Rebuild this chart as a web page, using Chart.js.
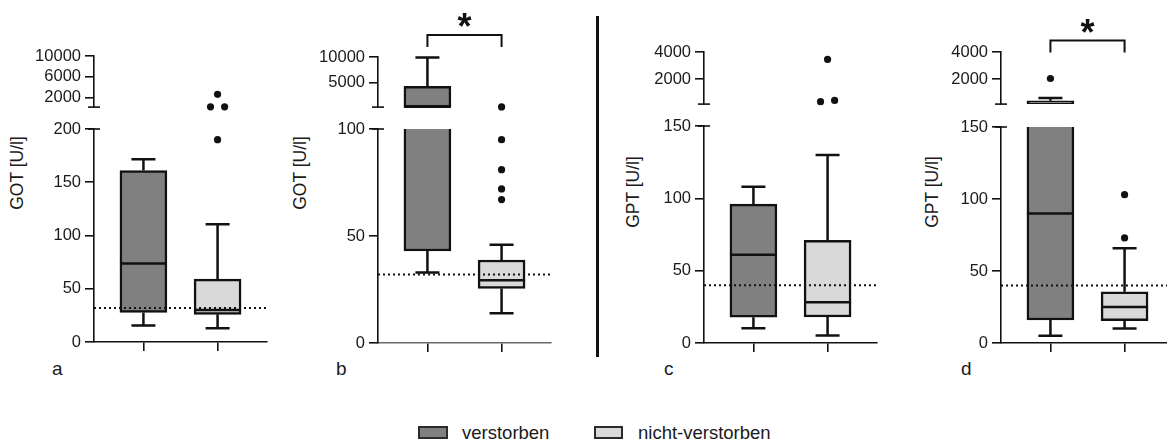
<!DOCTYPE html>
<html>
<head>
<meta charset="utf-8">
<script src="https://cdn.jsdelivr.net/npm/chart.js@4.4.1/dist/chart.umd.min.js"></script>
<style>
  html, body { margin: 0; padding: 0; background: #fff; }
  body { position: relative; width: 1167px; height: 441px; overflow: hidden;
         font-family: "Liberation Sans", Arial, sans-serif; color: #1a1a1a; }
  .holder { position: absolute; }
  .ytitle { position: absolute; font-size: 17.5px; line-height: 17.5px; white-space: nowrap;
            transform: translate(-50%, -50%) rotate(-90deg); }
  .letter { position: absolute; font-size: 19px; line-height: 19px; }
  .sep { position: absolute; left: 596px; top: 16px; width: 2.5px; height: 341px; background: #111; }
  .lgbox { position: absolute; top: 426px; height: 9px; border: 2px solid #2b2b2b; }
  .lgtext { position: absolute; top: 424px; font-size: 18.5px; line-height: 18.5px; white-space: nowrap; }
</style>
</head>
<body>
<div class="sep"></div>

<div class="ytitle" style="left:17.5px;top:172.5px">GOT [U/l]</div>
<div class="ytitle" style="left:301px;top:172.5px">GOT [U/l]</div>
<div class="ytitle" style="left:633.5px;top:191.5px">GPT [U/l]</div>
<div class="ytitle" style="left:933px;top:191.5px">GPT [U/l]</div>

<div class="letter" style="left:52px;top:359px">a</div>
<div class="letter" style="left:336px;top:359px">b</div>
<div class="letter" style="left:664px;top:359px">c</div>
<div class="letter" style="left:961px;top:359px">d</div>

<div class="lgbox" style="left:418px;width:26px;background:#808080"></div>
<div class="lgtext" style="left:462px">verstorben</div>
<div class="lgbox" style="left:594px;width:25px;background:#d9d9d9"></div>
<div class="lgtext" style="left:638px">nicht-verstorben</div>

<script>
// groups on the x axis
const groups = ['verstorben', 'nicht-verstorben'];
const groupX = [1, 2];

// box statistics per group: [min, q1, median, q3, max]
const gotA_stats = [[15.6, 27.8, 73.8, 161, 171.5], [12.8, 26, 30, 59, 110.6]];
const gotA_outY = [190, 250, 250, 2650];
const gotA_outX = [2, 1.905, 2.095, 2];

const gotB_stats = [[33, 43, 150, 4200, 9900], [13.9, 25.5, 29.3, 38.8, 45.9]];
const gotB_outY = [67, 72, 81, 95, 140];
const gotB_outX = [2, 2, 2, 2, 2];

const gptC_stats = [[10.2, 17.8, 61, 96, 108], [5.1, 18, 28.2, 71, 130]];
const gptC_outY = [330, 420, 3450];
const gptC_outX = [1.905, 2.095, 2];

const gptD_stats = [[5, 16, 90, 390, 600], [10, 15.5, 25, 35.6, 65.8]];
const gptD_outY = [2040, 73, 103];
const gptD_outX = [1, 2, 2];

// upper reference limits (dotted lines)
const gotRef = 32;
const gptRef = 40;

// broken y axes: tick labels of the lower and upper segment
const ticksA_low = [0, 50, 100, 150, 200], ticksA_up = [2000, 6000, 10000];
const ticksB_low = [0, 50, 100], ticksB_up = [5000, 10000];
const ticksC_low = [0, 50, 100, 150], ticksC_up = [2000, 4000];
const ticksD_low = [0, 50, 100, 150], ticksD_up = [2000, 4000];

const DARK = '#808080', LIGHT = '#d9d9d9', INK = '#111';
const groupColors = [DARK, LIGHT];
const XMIN = 1 / 3, XMAX = 8 / 3, UNIT = 74, YW = 70, PADR = 6, BOXW = 47, CAP = 24;

Chart.defaults.font.family = '"Liberation Sans", Arial, sans-serif';
Chart.defaults.color = '#1a1a1a';
Chart.defaults.animation = false;

const panels = [
  { stats: gotA_stats, outY: gotA_outY, outX: gotA_outX, ref: gotRef, brk: 200, top: 10000,
    lowTicks: ticksA_low, upTicks: ticksA_up, axisX: 94, lowTop: 129, lowBot: 342, upTop: 56, upBot: 109, sig: null },
  { stats: gotB_stats, outY: gotB_outY, outX: gotB_outX, ref: gotRef, brk: 100, top: 10000,
    lowTicks: ticksB_low, upTicks: ticksB_up, axisX: 378, lowTop: 129, lowBot: 343, upTop: 57, upBot: 109, sig: 22, xColor: '#6a6a6a' },
  { stats: gptC_stats, outY: gptC_outY, outX: gptC_outX, ref: gptRef, brk: 150, top: 4000,
    lowTicks: ticksC_low, upTicks: ticksC_up, axisX: 704, lowTop: 126, lowBot: 343, upTop: 52, upBot: 106, sig: null },
  { stats: gptD_stats, outY: gptD_outY, outX: gptD_outX, ref: gptRef, brk: 150, top: 4000,
    lowTicks: ticksD_low, upTicks: ticksD_up, axisX: 1001, lowTop: 127, lowBot: 343, upTop: 52, upBot: 106, sig: 11.5 }
];

function makeBoxPlugin(p, isUp, yMin, yMax) {
  const inRange = v => v >= yMin && v <= yMax;
  return {
    id: 'boxWhisker',
    afterDatasetsDraw(chart) {
      const { ctx, chartArea: a, scales: { x, y } } = chart;
      ctx.save();
      ctx.beginPath();
      ctx.rect(a.left, a.top - 1, a.right - a.left, a.bottom - a.top + 2);
      ctx.clip();
      ctx.strokeStyle = INK;
      ctx.lineWidth = 2.5;
      p.stats.forEach((s, i) => {
        const cx = x.getPixelForValue(groupX[i]);
        const [mn, q1, md, q3, mx] = s.map(v => y.getPixelForValue(v));
        ctx.beginPath();
        if (s[4] > yMin && s[3] < yMax) { ctx.moveTo(cx, q3); ctx.lineTo(cx, mx); }
        if (s[1] > yMin && s[0] < yMax) { ctx.moveTo(cx, q1); ctx.lineTo(cx, mn); }
        if (inRange(s[4])) { ctx.moveTo(cx - CAP / 2, mx); ctx.lineTo(cx + CAP / 2, mx); }
        if (inRange(s[0])) { ctx.moveTo(cx - CAP / 2, mn); ctx.lineTo(cx + CAP / 2, mn); }
        if (inRange(s[2])) { ctx.moveTo(cx - BOXW / 2, md); ctx.lineTo(cx + BOXW / 2, md); }
        ctx.stroke();
      });
      ctx.restore();
    },
    afterDraw(chart) {
      const { ctx, chartArea: a, scales: { x } } = chart;
      ctx.save();
      ctx.strokeStyle = INK;
      // axis break end cap
      ctx.lineWidth = 1.6;
      const yb = isUp ? a.bottom : a.top;
      ctx.beginPath();
      ctx.moveTo(a.left - 6, yb); ctx.lineTo(a.left + 6, yb);
      ctx.stroke();
      // significance bracket
      if (isUp && p.sig) {
        const x1 = x.getPixelForValue(groupX[0]), x2 = x.getPixelForValue(groupX[1]);
        const top = a.top - p.sig, leg = top + 12;
        ctx.lineWidth = 2;
        ctx.beginPath();
        ctx.moveTo(x1, leg); ctx.lineTo(x1, top); ctx.lineTo(x2, top); ctx.lineTo(x2, leg);
        ctx.stroke();
        ctx.fillStyle = INK;
        ctx.font = 'bold 36px "Liberation Sans", Arial, sans-serif';
        ctx.textAlign = 'center';
        const m = ctx.measureText('*');
        const cy = top - 15;
        ctx.fillText('*', (x1 + x2) / 2, cy + (m.actualBoundingBoxAscent - m.actualBoundingBoxDescent) / 2);
      }
      ctx.restore();
    }
  };
}

function buildChart(p, isUp) {
  const yMin = isUp ? p.brk : 0;
  const yMax = isUp ? p.top : p.brk;
  const padTop = isUp ? p.upTop : 14;
  const top = isUp ? 0 : p.lowTop - 14;
  const height = isUp ? p.upBot + 12 : p.lowBot - p.lowTop + 28;
  const width = Math.round(YW + (XMAX - XMIN) * UNIT + PADR);

  const holder = document.createElement('div');
  holder.className = 'holder';
  holder.style.left = (p.axisX - YW) + 'px';
  holder.style.top = top + 'px';
  holder.style.width = width + 'px';
  holder.style.height = height + 'px';
  const canvas = document.createElement('canvas');
  holder.appendChild(canvas);
  document.body.appendChild(holder);

  const inRange = v => v >= yMin && v <= yMax;
  // boxes visible in this segment (upper segment: clamp to the break so the cut edge shows)
  const shown = p.stats.map((s, i) => i).filter(i => !isUp || p.stats[i][3] > yMin);
  const boxes = shown.map(i => {
    const s = p.stats[i];
    return { x: groupX[i], y: isUp ? [Math.max(s[1], yMin), s[3]] : [s[1], s[3]] };
  });
  const points = p.outY.map((v, i) => ({ x: p.outX[i], y: v })).filter(pt => inRange(pt.y));

  const datasets = [
    { type: 'scatter', data: points, pointRadius: 3.6, pointBackgroundColor: INK, pointBorderWidth: 0,
      clip: 6, order: 1 },
    { type: 'bar', data: boxes, backgroundColor: shown.map(i => groupColors[i]), borderColor: INK, borderWidth: 2.5,
      borderSkipped: false, barThickness: BOXW, grouped: false, order: 2,
      clip: { top: 0, bottom: 0, left: false, right: false } }
  ];
  if (!isUp) {
    datasets.unshift({ type: 'line', data: [{ x: XMIN, y: p.ref }, { x: XMAX, y: p.ref }],
      borderColor: INK, borderWidth: 2, borderDash: [2, 3], pointRadius: 0, order: 0, clip: 0 });
  }

  return new Chart(canvas, {
    type: 'scatter',
    data: { datasets },
    options: {
      responsive: true,
      maintainAspectRatio: false,
      layout: { padding: { top: padTop, right: PADR, bottom: isUp ? 12 : 0, left: 0 } },
      plugins: { legend: { display: false }, tooltip: { enabled: false } },
      scales: {
        x: {
          type: 'linear', display: !isUp, min: XMIN, max: XMAX, offset: false,
          afterBuildTicks: s => { s.ticks = groupX.map(v => ({ value: v })); },
          afterFit: s => { s.height = isUp ? 0 : 14; },
          ticks: { display: false },
          grid: { drawOnChartArea: false, offset: false, tickLength: 9, color: INK, lineWidth: 1.6 },
          border: { color: p.xColor || INK, width: 1.6 }
        },
        y: {
          type: 'linear', min: yMin, max: yMax,
          afterBuildTicks: s => { s.ticks = (isUp ? p.upTicks : p.lowTicks).map(v => ({ value: v })); },
          afterFit: s => { s.width = YW; },
          ticks: { padding: 4, autoSkip: false, font: { size: 16.5 }, color: '#1a1a1a', callback: v => String(v) },
          grid: { drawOnChartArea: false, tickLength: 9, color: INK, lineWidth: 1.6 },
          border: { color: INK, width: 1.6 }
        }
      }
    },
    plugins: [makeBoxPlugin(p, isUp, yMin, yMax)]
  });
}

panels.forEach(p => {
  buildChart(p, false);
  buildChart(p, true);
});
</script>
</body>
</html>
